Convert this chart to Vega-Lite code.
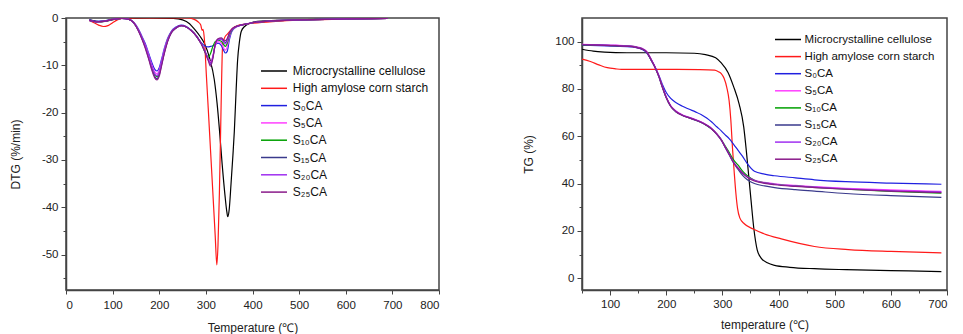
{
"$schema":"https://vega.github.io/schema/vega-lite/v6.json",
"padding":{"left":8,"top":11,"right":0,"bottom":0},
"spacing":81,
"config":{"font":"Liberation Sans","view":{"stroke":"#444","strokeWidth":1.5},
"axis":{"domainColor":"#444","domainWidth":1.5,"tickColor":"#444","tickWidth":1,"labelFont":"Liberation Sans","labelFontSize":11.5,"labelColor":"#222","titleFont":"Liberation Sans","titleFontSize":12,"titleFontWeight":"normal","titleColor":"#222","grid":false},
"legend":{"title":null,"symbolType":"M-2.5,0H2.5","symbolSize":108,"symbolStrokeWidth":1.5,"labelFont":"Liberation Sans","labelColor":"#111","padding":0}},
"datasets":{
"dtg":[
{"s":"MCC","t":50,"v":-0.4},{"s":"MCC","t":60,"v":-0.6},{"s":"MCC","t":75,"v":-0.8},{"s":"MCC","t":90,"v":-0.6},{"s":"MCC","t":110,"v":-0.2},{"s":"MCC","t":130,"v":-0.05},{"s":"MCC","t":180,"v":0},{"s":"MCC","t":230,"v":-0.1},{"s":"MCC","t":250,"v":-0.4},{"s":"MCC","t":265,"v":-1.2},{"s":"MCC","t":275,"v":-2.3},{"s":"MCC","t":287,"v":-3.8},{"s":"MCC","t":297,"v":-5.4},{"s":"MCC","t":308,"v":-8.5},{"s":"MCC","t":318,"v":-13},{"s":"MCC","t":324,"v":-18},{"s":"MCC","t":329,"v":-23.5},{"s":"MCC","t":335,"v":-31},{"s":"MCC","t":341,"v":-37.5},{"s":"MCC","t":345,"v":-41},{"s":"MCC","t":347,"v":-42},{"s":"MCC","t":350,"v":-40.5},{"s":"MCC","t":354,"v":-35},{"s":"MCC","t":358,"v":-29},{"s":"MCC","t":361,"v":-24},{"s":"MCC","t":365,"v":-15},{"s":"MCC","t":368,"v":-9},{"s":"MCC","t":372,"v":-5},{"s":"MCC","t":376,"v":-2.8},{"s":"MCC","t":383,"v":-1.8},{"s":"MCC","t":395,"v":-1.1},{"s":"MCC","t":404,"v":-0.8},{"s":"MCC","t":450,"v":-0.5},{"s":"MCC","t":500,"v":-0.35},{"s":"MCC","t":600,"v":-0.2},{"s":"MCC","t":690,"v":-0.1},
{"s":"HACS","t":50,"v":-0.5},{"s":"HACS","t":60,"v":-1.0},{"s":"HACS","t":70,"v":-1.5},{"s":"HACS","t":80,"v":-1.8},{"s":"HACS","t":90,"v":-1.6},{"s":"HACS","t":100,"v":-1.0},{"s":"HACS","t":110,"v":-0.4},{"s":"HACS","t":120,"v":-0.1},{"s":"HACS","t":150,"v":0},{"s":"HACS","t":260,"v":0},{"s":"HACS","t":275,"v":-0.3},{"s":"HACS","t":283,"v":-0.8},{"s":"HACS","t":289,"v":-1.5},{"s":"HACS","t":292,"v":-2.6},{"s":"HACS","t":294,"v":-2.4},{"s":"HACS","t":297,"v":-4.7},{"s":"HACS","t":301,"v":-12},{"s":"HACS","t":305,"v":-19},{"s":"HACS","t":310,"v":-28},{"s":"HACS","t":315,"v":-37},{"s":"HACS","t":320,"v":-46},{"s":"HACS","t":323.5,"v":-52.2},{"s":"HACS","t":326,"v":-48},{"s":"HACS","t":329,"v":-37},{"s":"HACS","t":332,"v":-22},{"s":"HACS","t":334,"v":-12},{"s":"HACS","t":336,"v":-5.5},{"s":"HACS","t":340,"v":-4.2},{"s":"HACS","t":347,"v":-3.3},{"s":"HACS","t":357,"v":-2.2},{"s":"HACS","t":368,"v":-1.6},{"s":"HACS","t":385,"v":-1.3},{"s":"HACS","t":400,"v":-1.1},{"s":"HACS","t":450,"v":-0.7},{"s":"HACS","t":500,"v":-0.45},{"s":"HACS","t":600,"v":-0.25},{"s":"HACS","t":690,"v":-0.1},
{"s":"S0CA","t":50,"v":-0.4},{"s":"S0CA","t":65,"v":-0.7},{"s":"S0CA","t":80,"v":-0.6},{"s":"S0CA","t":100,"v":-0.3},{"s":"S0CA","t":120,"v":-0.1},{"s":"S0CA","t":135,"v":-0.3},{"s":"S0CA","t":145,"v":-0.9},{"s":"S0CA","t":155,"v":-2.3},{"s":"S0CA","t":163,"v":-3.9},{"s":"S0CA","t":170,"v":-5.4},{"s":"S0CA","t":177,"v":-7.4},{"s":"S0CA","t":184,"v":-9.4},{"s":"S0CA","t":190,"v":-10.8},{"s":"S0CA","t":195,"v":-11.2},{"s":"S0CA","t":200,"v":-10.5},{"s":"S0CA","t":205,"v":-8.7},{"s":"S0CA","t":211,"v":-6.4},{"s":"S0CA","t":218,"v":-4.3},{"s":"S0CA","t":226,"v":-2.8},{"s":"S0CA","t":236,"v":-1.9},{"s":"S0CA","t":247,"v":-1.5},{"s":"S0CA","t":258,"v":-1.8},{"s":"S0CA","t":268,"v":-2.5},{"s":"S0CA","t":280,"v":-3.8},{"s":"S0CA","t":290,"v":-5.2},{"s":"S0CA","t":298,"v":-5.9},{"s":"S0CA","t":305,"v":-6.1},{"s":"S0CA","t":310,"v":-6.0},{"s":"S0CA","t":315,"v":-5.9},{"s":"S0CA","t":320,"v":-5.6},{"s":"S0CA","t":326,"v":-5.3},{"s":"S0CA","t":333,"v":-5.8},{"s":"S0CA","t":338,"v":-6.8},{"s":"S0CA","t":342,"v":-7.4},{"s":"S0CA","t":346,"v":-7.0},{"s":"S0CA","t":350,"v":-4.8},{"s":"S0CA","t":356,"v":-2.8},{"s":"S0CA","t":365,"v":-1.9},{"s":"S0CA","t":380,"v":-1.4},{"s":"S0CA","t":400,"v":-1.0},{"s":"S0CA","t":440,"v":-0.6},{"s":"S0CA","t":500,"v":-0.4},{"s":"S0CA","t":600,"v":-0.2},{"s":"S0CA","t":690,"v":-0.1},
{"s":"S5CA","t":50,"v":-0.5},{"s":"S5CA","t":65,"v":-0.8},{"s":"S5CA","t":80,"v":-0.7},{"s":"S5CA","t":100,"v":-0.3},{"s":"S5CA","t":120,"v":-0.1},{"s":"S5CA","t":135,"v":-0.3},{"s":"S5CA","t":145,"v":-0.9},{"s":"S5CA","t":155,"v":-2.4},{"s":"S5CA","t":163,"v":-4.1},{"s":"S5CA","t":170,"v":-5.7},{"s":"S5CA","t":177,"v":-7.7},{"s":"S5CA","t":184,"v":-9.9},{"s":"S5CA","t":190,"v":-11.3},{"s":"S5CA","t":195,"v":-11.8},{"s":"S5CA","t":200,"v":-11.0},{"s":"S5CA","t":205,"v":-9.1},{"s":"S5CA","t":211,"v":-6.7},{"s":"S5CA","t":218,"v":-4.5},{"s":"S5CA","t":226,"v":-2.9},{"s":"S5CA","t":236,"v":-2.0},{"s":"S5CA","t":247,"v":-1.6},{"s":"S5CA","t":258,"v":-1.9},{"s":"S5CA","t":268,"v":-2.6},{"s":"S5CA","t":280,"v":-3.9},{"s":"S5CA","t":290,"v":-5.4},{"s":"S5CA","t":298,"v":-7.0},{"s":"S5CA","t":305,"v":-8.5},{"s":"S5CA","t":310,"v":-9.3},{"s":"S5CA","t":315,"v":-8.0},{"s":"S5CA","t":320,"v":-5.8},{"s":"S5CA","t":326,"v":-5.0},{"s":"S5CA","t":333,"v":-5.3},{"s":"S5CA","t":338,"v":-6.3},{"s":"S5CA","t":342,"v":-6.8},{"s":"S5CA","t":346,"v":-6.0},{"s":"S5CA","t":350,"v":-4.2},{"s":"S5CA","t":356,"v":-2.6},{"s":"S5CA","t":365,"v":-1.9},{"s":"S5CA","t":380,"v":-1.4},{"s":"S5CA","t":400,"v":-1.0},{"s":"S5CA","t":440,"v":-0.6},{"s":"S5CA","t":500,"v":-0.4},{"s":"S5CA","t":600,"v":-0.2},{"s":"S5CA","t":690,"v":-0.1},
{"s":"S10CA","t":50,"v":-0.5},{"s":"S10CA","t":65,"v":-0.8},{"s":"S10CA","t":80,"v":-0.7},{"s":"S10CA","t":100,"v":-0.3},{"s":"S10CA","t":120,"v":-0.1},{"s":"S10CA","t":135,"v":-0.3},{"s":"S10CA","t":145,"v":-1.0},{"s":"S10CA","t":155,"v":-2.5},{"s":"S10CA","t":163,"v":-4.3},{"s":"S10CA","t":170,"v":-6.0},{"s":"S10CA","t":177,"v":-8.1},{"s":"S10CA","t":184,"v":-10.4},{"s":"S10CA","t":190,"v":-11.9},{"s":"S10CA","t":195,"v":-12.4},{"s":"S10CA","t":200,"v":-11.6},{"s":"S10CA","t":205,"v":-9.6},{"s":"S10CA","t":211,"v":-7.1},{"s":"S10CA","t":218,"v":-4.7},{"s":"S10CA","t":226,"v":-3.0},{"s":"S10CA","t":236,"v":-2.1},{"s":"S10CA","t":247,"v":-1.6},{"s":"S10CA","t":258,"v":-1.9},{"s":"S10CA","t":268,"v":-2.6},{"s":"S10CA","t":280,"v":-3.9},{"s":"S10CA","t":290,"v":-5.4},{"s":"S10CA","t":298,"v":-7.2},{"s":"S10CA","t":305,"v":-8.3},{"s":"S10CA","t":310,"v":-7.5},{"s":"S10CA","t":315,"v":-6.0},{"s":"S10CA","t":320,"v":-5.0},{"s":"S10CA","t":326,"v":-4.7},{"s":"S10CA","t":333,"v":-4.9},{"s":"S10CA","t":338,"v":-5.6},{"s":"S10CA","t":342,"v":-6.0},{"s":"S10CA","t":346,"v":-5.3},{"s":"S10CA","t":350,"v":-3.8},{"s":"S10CA","t":356,"v":-2.5},{"s":"S10CA","t":365,"v":-1.8},{"s":"S10CA","t":380,"v":-1.4},{"s":"S10CA","t":400,"v":-1.0},{"s":"S10CA","t":440,"v":-0.6},{"s":"S10CA","t":500,"v":-0.4},{"s":"S10CA","t":600,"v":-0.2},{"s":"S10CA","t":690,"v":-0.1},
{"s":"S15CA","t":50,"v":-0.5},{"s":"S15CA","t":65,"v":-0.8},{"s":"S15CA","t":80,"v":-0.7},{"s":"S15CA","t":100,"v":-0.3},{"s":"S15CA","t":120,"v":-0.1},{"s":"S15CA","t":135,"v":-0.3},{"s":"S15CA","t":145,"v":-1.0},{"s":"S15CA","t":155,"v":-2.6},{"s":"S15CA","t":163,"v":-4.4},{"s":"S15CA","t":170,"v":-6.2},{"s":"S15CA","t":177,"v":-8.4},{"s":"S15CA","t":184,"v":-10.7},{"s":"S15CA","t":190,"v":-12.3},{"s":"S15CA","t":195,"v":-12.8},{"s":"S15CA","t":200,"v":-12.0},{"s":"S15CA","t":205,"v":-9.9},{"s":"S15CA","t":211,"v":-7.3},{"s":"S15CA","t":218,"v":-4.9},{"s":"S15CA","t":226,"v":-3.1},{"s":"S15CA","t":236,"v":-2.1},{"s":"S15CA","t":247,"v":-1.6},{"s":"S15CA","t":258,"v":-1.9},{"s":"S15CA","t":268,"v":-2.6},{"s":"S15CA","t":280,"v":-3.9},{"s":"S15CA","t":290,"v":-5.4},{"s":"S15CA","t":298,"v":-7.0},{"s":"S15CA","t":305,"v":-8.8},{"s":"S15CA","t":310,"v":-9.8},{"s":"S15CA","t":315,"v":-8.3},{"s":"S15CA","t":320,"v":-5.6},{"s":"S15CA","t":326,"v":-4.5},{"s":"S15CA","t":333,"v":-4.4},{"s":"S15CA","t":338,"v":-4.9},{"s":"S15CA","t":342,"v":-5.2},{"s":"S15CA","t":346,"v":-4.6},{"s":"S15CA","t":350,"v":-3.4},{"s":"S15CA","t":356,"v":-2.4},{"s":"S15CA","t":365,"v":-1.8},{"s":"S15CA","t":380,"v":-1.4},{"s":"S15CA","t":400,"v":-1.0},{"s":"S15CA","t":440,"v":-0.6},{"s":"S15CA","t":500,"v":-0.4},{"s":"S15CA","t":600,"v":-0.2},{"s":"S15CA","t":690,"v":-0.1},
{"s":"S20CA","t":50,"v":-0.5},{"s":"S20CA","t":65,"v":-0.8},{"s":"S20CA","t":80,"v":-0.7},{"s":"S20CA","t":100,"v":-0.3},{"s":"S20CA","t":120,"v":-0.1},{"s":"S20CA","t":135,"v":-0.3},{"s":"S20CA","t":145,"v":-1.0},{"s":"S20CA","t":155,"v":-2.5},{"s":"S20CA","t":163,"v":-4.2},{"s":"S20CA","t":170,"v":-5.9},{"s":"S20CA","t":177,"v":-8.0},{"s":"S20CA","t":184,"v":-10.2},{"s":"S20CA","t":190,"v":-11.7},{"s":"S20CA","t":195,"v":-12.2},{"s":"S20CA","t":200,"v":-11.4},{"s":"S20CA","t":205,"v":-9.4},{"s":"S20CA","t":211,"v":-7.0},{"s":"S20CA","t":218,"v":-4.7},{"s":"S20CA","t":226,"v":-3.0},{"s":"S20CA","t":236,"v":-2.1},{"s":"S20CA","t":247,"v":-1.6},{"s":"S20CA","t":258,"v":-1.9},{"s":"S20CA","t":268,"v":-2.6},{"s":"S20CA","t":280,"v":-3.9},{"s":"S20CA","t":290,"v":-5.4},{"s":"S20CA","t":298,"v":-7.0},{"s":"S20CA","t":305,"v":-8.7},{"s":"S20CA","t":310,"v":-9.6},{"s":"S20CA","t":315,"v":-8.2},{"s":"S20CA","t":320,"v":-5.7},{"s":"S20CA","t":326,"v":-4.6},{"s":"S20CA","t":333,"v":-4.5},{"s":"S20CA","t":338,"v":-5.1},{"s":"S20CA","t":342,"v":-5.5},{"s":"S20CA","t":346,"v":-4.9},{"s":"S20CA","t":350,"v":-3.5},{"s":"S20CA","t":356,"v":-2.4},{"s":"S20CA","t":365,"v":-1.8},{"s":"S20CA","t":380,"v":-1.4},{"s":"S20CA","t":400,"v":-1.0},{"s":"S20CA","t":440,"v":-0.6},{"s":"S20CA","t":500,"v":-0.4},{"s":"S20CA","t":600,"v":-0.2},{"s":"S20CA","t":690,"v":-0.1},
{"s":"S25CA","t":50,"v":-0.5},{"s":"S25CA","t":65,"v":-0.8},{"s":"S25CA","t":80,"v":-0.7},{"s":"S25CA","t":100,"v":-0.3},{"s":"S25CA","t":120,"v":-0.1},{"s":"S25CA","t":135,"v":-0.3},{"s":"S25CA","t":145,"v":-1.0},{"s":"S25CA","t":155,"v":-2.7},{"s":"S25CA","t":163,"v":-4.5},{"s":"S25CA","t":170,"v":-6.4},{"s":"S25CA","t":177,"v":-8.6},{"s":"S25CA","t":184,"v":-11.0},{"s":"S25CA","t":190,"v":-12.6},{"s":"S25CA","t":195,"v":-13.1},{"s":"S25CA","t":200,"v":-12.3},{"s":"S25CA","t":205,"v":-10.1},{"s":"S25CA","t":211,"v":-7.5},{"s":"S25CA","t":218,"v":-5.0},{"s":"S25CA","t":226,"v":-3.1},{"s":"S25CA","t":236,"v":-2.1},{"s":"S25CA","t":247,"v":-1.6},{"s":"S25CA","t":258,"v":-1.9},{"s":"S25CA","t":268,"v":-2.6},{"s":"S25CA","t":280,"v":-3.9},{"s":"S25CA","t":290,"v":-5.5},{"s":"S25CA","t":298,"v":-7.2},{"s":"S25CA","t":305,"v":-9.0},{"s":"S25CA","t":310,"v":-10.2},{"s":"S25CA","t":315,"v":-8.6},{"s":"S25CA","t":320,"v":-5.6},{"s":"S25CA","t":326,"v":-4.4},{"s":"S25CA","t":333,"v":-4.2},{"s":"S25CA","t":338,"v":-4.6},{"s":"S25CA","t":342,"v":-4.8},{"s":"S25CA","t":346,"v":-4.3},{"s":"S25CA","t":350,"v":-3.3},{"s":"S25CA","t":356,"v":-2.3},{"s":"S25CA","t":365,"v":-1.8},{"s":"S25CA","t":380,"v":-1.4},{"s":"S25CA","t":400,"v":-1.0},{"s":"S25CA","t":440,"v":-0.6},{"s":"S25CA","t":500,"v":-0.4},{"s":"S25CA","t":600,"v":-0.2},{"s":"S25CA","t":690,"v":-0.1}
],
"tg":[
{"s":"MCC","t":50,"v":96.8},{"s":"MCC","t":70,"v":96.0},{"s":"MCC","t":90,"v":95.6},{"s":"MCC","t":110,"v":95.4},{"s":"MCC","t":150,"v":95.3},{"s":"MCC","t":200,"v":95.3},{"s":"MCC","t":250,"v":95.1},{"s":"MCC","t":270,"v":94.5},{"s":"MCC","t":288,"v":93.2},{"s":"MCC","t":298,"v":91.0},{"s":"MCC","t":310,"v":87.0},{"s":"MCC","t":320,"v":81.0},{"s":"MCC","t":330,"v":73.5},{"s":"MCC","t":338,"v":64},{"s":"MCC","t":343,"v":53},{"s":"MCC","t":347,"v":43},{"s":"MCC","t":351,"v":33},{"s":"MCC","t":356,"v":21},{"s":"MCC","t":362,"v":12},{"s":"MCC","t":369,"v":8.5},{"s":"MCC","t":380,"v":6.5},{"s":"MCC","t":393,"v":5.4},{"s":"MCC","t":420,"v":4.6},{"s":"MCC","t":464,"v":4.0},{"s":"MCC","t":520,"v":3.6},{"s":"MCC","t":600,"v":3.2},{"s":"MCC","t":690,"v":2.8},
{"s":"HACS","t":50,"v":92.6},{"s":"HACS","t":65,"v":91.6},{"s":"HACS","t":80,"v":90.2},{"s":"HACS","t":95,"v":89.0},{"s":"HACS","t":110,"v":88.5},{"s":"HACS","t":120,"v":88.3},{"s":"HACS","t":200,"v":88.3},{"s":"HACS","t":260,"v":88.2},{"s":"HACS","t":286,"v":88.0},{"s":"HACS","t":293,"v":87.3},{"s":"HACS","t":298,"v":86.5},{"s":"HACS","t":303,"v":84.5},{"s":"HACS","t":308,"v":80.5},{"s":"HACS","t":312,"v":75},{"s":"HACS","t":315,"v":67},{"s":"HACS","t":318,"v":55},{"s":"HACS","t":321,"v":45},{"s":"HACS","t":324,"v":36},{"s":"HACS","t":327,"v":29.5},{"s":"HACS","t":331,"v":25.5},{"s":"HACS","t":339,"v":23.0},{"s":"HACS","t":355,"v":20.8},{"s":"HACS","t":375,"v":18.7},{"s":"HACS","t":405,"v":16.6},{"s":"HACS","t":464,"v":13.4},{"s":"HACS","t":524,"v":12.1},{"s":"HACS","t":600,"v":11.3},{"s":"HACS","t":690,"v":10.7},
{"s":"S0CA","t":50,"v":98.5},{"s":"S0CA","t":80,"v":98.3},{"s":"S0CA","t":110,"v":98.1},{"s":"S0CA","t":140,"v":97.8},{"s":"S0CA","t":150,"v":97.3},{"s":"S0CA","t":158,"v":96.6},{"s":"S0CA","t":165,"v":95.4},{"s":"S0CA","t":173,"v":92.3},{"s":"S0CA","t":180,"v":89.3},{"s":"S0CA","t":187,"v":85.7},{"s":"S0CA","t":193,"v":82.0},{"s":"S0CA","t":200,"v":78.5},{"s":"S0CA","t":208,"v":76.0},{"s":"S0CA","t":217,"v":74.3},{"s":"S0CA","t":228,"v":72.8},{"s":"S0CA","t":240,"v":71.5},{"s":"S0CA","t":252,"v":70.3},{"s":"S0CA","t":262,"v":69.2},{"s":"S0CA","t":272,"v":67.7},{"s":"S0CA","t":281,"v":66.0},{"s":"S0CA","t":290,"v":64.0},{"s":"S0CA","t":298,"v":62.3},{"s":"S0CA","t":305,"v":60.6},{"s":"S0CA","t":312,"v":59.0},{"s":"S0CA","t":320,"v":56.6},{"s":"S0CA","t":328,"v":54.0},{"s":"S0CA","t":336,"v":51.5},{"s":"S0CA","t":345,"v":48.2},{"s":"S0CA","t":357,"v":45.2},{"s":"S0CA","t":375,"v":44.0},{"s":"S0CA","t":393,"v":43.3},{"s":"S0CA","t":430,"v":42.4},{"s":"S0CA","t":464,"v":41.6},{"s":"S0CA","t":520,"v":40.8},{"s":"S0CA","t":600,"v":40.2},{"s":"S0CA","t":690,"v":39.7},
{"s":"S5CA","t":50,"v":98.9},{"s":"S5CA","t":80,"v":98.7},{"s":"S5CA","t":110,"v":98.5},{"s":"S5CA","t":140,"v":98.1},{"s":"S5CA","t":150,"v":97.7},{"s":"S5CA","t":158,"v":97.1},{"s":"S5CA","t":165,"v":95.9},{"s":"S5CA","t":173,"v":92.7},{"s":"S5CA","t":180,"v":89.5},{"s":"S5CA","t":187,"v":85.5},{"s":"S5CA","t":193,"v":81.2},{"s":"S5CA","t":200,"v":76.7},{"s":"S5CA","t":208,"v":73.0},{"s":"S5CA","t":217,"v":70.8},{"s":"S5CA","t":228,"v":69.2},{"s":"S5CA","t":240,"v":68.1},{"s":"S5CA","t":252,"v":67.1},{"s":"S5CA","t":262,"v":66.1},{"s":"S5CA","t":272,"v":64.8},{"s":"S5CA","t":281,"v":63.3},{"s":"S5CA","t":290,"v":61.1},{"s":"S5CA","t":298,"v":58.6},{"s":"S5CA","t":305,"v":55.6},{"s":"S5CA","t":312,"v":52.6},{"s":"S5CA","t":320,"v":49.1},{"s":"S5CA","t":328,"v":46.7},{"s":"S5CA","t":336,"v":44.7},{"s":"S5CA","t":345,"v":43.0},{"s":"S5CA","t":357,"v":41.5},{"s":"S5CA","t":375,"v":40.5},{"s":"S5CA","t":393,"v":39.9},{"s":"S5CA","t":430,"v":39.2},{"s":"S5CA","t":464,"v":38.7},{"s":"S5CA","t":520,"v":38.0},{"s":"S5CA","t":600,"v":37.3},{"s":"S5CA","t":690,"v":36.7},
{"s":"S10CA","t":50,"v":98.6},{"s":"S10CA","t":80,"v":98.5},{"s":"S10CA","t":110,"v":98.3},{"s":"S10CA","t":140,"v":98.0},{"s":"S10CA","t":150,"v":97.5},{"s":"S10CA","t":158,"v":96.9},{"s":"S10CA","t":165,"v":95.7},{"s":"S10CA","t":173,"v":92.4},{"s":"S10CA","t":180,"v":89.2},{"s":"S10CA","t":187,"v":85.2},{"s":"S10CA","t":193,"v":80.9},{"s":"S10CA","t":200,"v":76.4},{"s":"S10CA","t":208,"v":72.7},{"s":"S10CA","t":217,"v":70.5},{"s":"S10CA","t":228,"v":69.0},{"s":"S10CA","t":240,"v":67.9},{"s":"S10CA","t":252,"v":66.9},{"s":"S10CA","t":262,"v":65.9},{"s":"S10CA","t":272,"v":64.6},{"s":"S10CA","t":281,"v":63.1},{"s":"S10CA","t":290,"v":61.0},{"s":"S10CA","t":298,"v":58.6},{"s":"S10CA","t":305,"v":55.9},{"s":"S10CA","t":312,"v":53.2},{"s":"S10CA","t":320,"v":50.0},{"s":"S10CA","t":328,"v":47.8},{"s":"S10CA","t":336,"v":45.3},{"s":"S10CA","t":345,"v":43.2},{"s":"S10CA","t":357,"v":41.4},{"s":"S10CA","t":375,"v":40.3},{"s":"S10CA","t":393,"v":39.7},{"s":"S10CA","t":430,"v":39.0},{"s":"S10CA","t":464,"v":38.4},{"s":"S10CA","t":520,"v":37.6},{"s":"S10CA","t":600,"v":36.7},{"s":"S10CA","t":690,"v":36.0},
{"s":"S15CA","t":50,"v":98.7},{"s":"S15CA","t":80,"v":98.5},{"s":"S15CA","t":110,"v":98.3},{"s":"S15CA","t":140,"v":97.9},{"s":"S15CA","t":150,"v":97.4},{"s":"S15CA","t":158,"v":96.8},{"s":"S15CA","t":165,"v":95.6},{"s":"S15CA","t":173,"v":92.3},{"s":"S15CA","t":180,"v":89.1},{"s":"S15CA","t":187,"v":85.1},{"s":"S15CA","t":193,"v":80.8},{"s":"S15CA","t":200,"v":76.3},{"s":"S15CA","t":208,"v":72.6},{"s":"S15CA","t":217,"v":70.4},{"s":"S15CA","t":228,"v":68.9},{"s":"S15CA","t":240,"v":67.8},{"s":"S15CA","t":252,"v":66.8},{"s":"S15CA","t":262,"v":65.8},{"s":"S15CA","t":272,"v":64.5},{"s":"S15CA","t":281,"v":63.0},{"s":"S15CA","t":290,"v":60.8},{"s":"S15CA","t":298,"v":58.3},{"s":"S15CA","t":305,"v":55.3},{"s":"S15CA","t":312,"v":52.2},{"s":"S15CA","t":320,"v":48.7},{"s":"S15CA","t":328,"v":46.0},{"s":"S15CA","t":336,"v":43.5},{"s":"S15CA","t":345,"v":41.5},{"s":"S15CA","t":357,"v":40.0},{"s":"S15CA","t":375,"v":39.0},{"s":"S15CA","t":393,"v":38.3},{"s":"S15CA","t":430,"v":37.4},{"s":"S15CA","t":464,"v":36.8},{"s":"S15CA","t":520,"v":35.8},{"s":"S15CA","t":600,"v":34.9},{"s":"S15CA","t":690,"v":34.2},
{"s":"S20CA","t":50,"v":98.8},{"s":"S20CA","t":80,"v":98.6},{"s":"S20CA","t":110,"v":98.4},{"s":"S20CA","t":140,"v":98.0},{"s":"S20CA","t":150,"v":97.5},{"s":"S20CA","t":158,"v":96.9},{"s":"S20CA","t":165,"v":95.8},{"s":"S20CA","t":173,"v":92.5},{"s":"S20CA","t":180,"v":89.3},{"s":"S20CA","t":187,"v":85.3},{"s":"S20CA","t":193,"v":81.0},{"s":"S20CA","t":200,"v":76.5},{"s":"S20CA","t":208,"v":72.8},{"s":"S20CA","t":217,"v":70.6},{"s":"S20CA","t":228,"v":69.0},{"s":"S20CA","t":240,"v":68.0},{"s":"S20CA","t":252,"v":67.0},{"s":"S20CA","t":262,"v":66.0},{"s":"S20CA","t":272,"v":64.7},{"s":"S20CA","t":281,"v":63.2},{"s":"S20CA","t":290,"v":61.0},{"s":"S20CA","t":298,"v":58.5},{"s":"S20CA","t":305,"v":55.5},{"s":"S20CA","t":312,"v":52.5},{"s":"S20CA","t":320,"v":49.0},{"s":"S20CA","t":328,"v":46.5},{"s":"S20CA","t":336,"v":44.5},{"s":"S20CA","t":345,"v":42.8},{"s":"S20CA","t":357,"v":41.3},{"s":"S20CA","t":375,"v":40.3},{"s":"S20CA","t":393,"v":39.7},{"s":"S20CA","t":430,"v":39.0},{"s":"S20CA","t":464,"v":38.5},{"s":"S20CA","t":520,"v":37.8},{"s":"S20CA","t":600,"v":37.0},{"s":"S20CA","t":690,"v":36.5},
{"s":"S25CA","t":50,"v":98.7},{"s":"S25CA","t":80,"v":98.5},{"s":"S25CA","t":110,"v":98.3},{"s":"S25CA","t":140,"v":97.9},{"s":"S25CA","t":150,"v":97.4},{"s":"S25CA","t":158,"v":96.8},{"s":"S25CA","t":165,"v":95.7},{"s":"S25CA","t":173,"v":92.4},{"s":"S25CA","t":180,"v":89.2},{"s":"S25CA","t":187,"v":85.2},{"s":"S25CA","t":193,"v":80.9},{"s":"S25CA","t":200,"v":76.4},{"s":"S25CA","t":208,"v":72.7},{"s":"S25CA","t":217,"v":70.5},{"s":"S25CA","t":228,"v":68.9},{"s":"S25CA","t":240,"v":67.9},{"s":"S25CA","t":252,"v":66.9},{"s":"S25CA","t":262,"v":65.9},{"s":"S25CA","t":272,"v":64.6},{"s":"S25CA","t":281,"v":63.1},{"s":"S25CA","t":290,"v":60.9},{"s":"S25CA","t":298,"v":58.4},{"s":"S25CA","t":305,"v":55.4},{"s":"S25CA","t":312,"v":52.4},{"s":"S25CA","t":320,"v":48.9},{"s":"S25CA","t":328,"v":46.4},{"s":"S25CA","t":336,"v":44.3},{"s":"S25CA","t":345,"v":42.6},{"s":"S25CA","t":357,"v":41.1},{"s":"S25CA","t":375,"v":40.1},{"s":"S25CA","t":393,"v":39.5},{"s":"S25CA","t":430,"v":38.8},{"s":"S25CA","t":464,"v":38.3},{"s":"S25CA","t":520,"v":37.6},{"s":"S25CA","t":600,"v":36.8},{"s":"S25CA","t":690,"v":36.2}
]},
"resolve":{"scale":{"color":"independent"},"legend":{"color":"independent"}},
"hconcat":[
{"width":373,"height":272,"data":{"name":"dtg"},
"mark":{"type":"line","strokeWidth":1.2,"interpolate":"monotone","clip":true},
"encoding":{
"x":{"field":"t","type":"quantitative","scale":{"domain":[0,800],"nice":false},"axis":{"title":"Temperature (℃)","values":[0,100,200,300,400,500,600,700,800],"tickSize":4,"labelPadding":5,"titlePadding":12}},
"y":{"field":"v","type":"quantitative","scale":{"domain":[-57.5,0],"nice":false,"zero":false},"axis":{"title":"DTG (%/min)","values":[-55,-50,-45,-40,-35,-30,-25,-20,-15,-10,-5,0],"labelExpr":"datum.value % 10 ? '' : '' + datum.value","tickSize":{"condition":{"test":"datum.value % 10 != 0","value":3},"value":5},"labelPadding":3,"titlePadding":19}},
"color":{"field":"s","type":"nominal","sort":null,"scale":{"domain":["MCC","HACS","S0CA","S5CA","S10CA","S15CA","S20CA","S25CA"],"range":["#000000","#ff1a1a","#2020e0","#ff40ff","#00a000","#3a3a8c","#a030f0","#8a1a8a"]},
"legend":{"orient":"none","legendX":202,"legendY":47,"labelOffset":12.8,"labelFontSize":12,"rowPadding":5.3,"labelExpr":"datum.label=='MCC'?'Microcrystalline cellulose':datum.label=='HACS'?'High amylose corn starch':datum.label=='S0CA'?'S₀CA':datum.label=='S5CA'?'S₅CA':datum.label=='S10CA'?'S₁₀CA':datum.label=='S15CA'?'S₁₅CA':datum.label=='S20CA'?'S₂₀CA':'S₂₅CA'"}}}},
{"width":365,"height":272,"data":{"name":"tg"},
"mark":{"type":"line","strokeWidth":1.2,"interpolate":"monotone","clip":true},
"encoding":{
"x":{"field":"t","type":"quantitative","scale":{"domain":[50,700],"nice":false,"zero":false},"axis":{"title":"temperature (℃)","values":[50,100,150,200,250,300,350,400,450,500,550,600,650,700],"labelExpr":"datum.value % 100 ? '' : '' + datum.value","tickSize":{"condition":{"test":"datum.value % 100 != 0","value":3},"value":5},"labelPadding":3,"titlePadding":10}},
"y":{"field":"v","type":"quantitative","scale":{"domain":[-5,110],"nice":false,"zero":false},"axis":{"title":"TG (%)","values":[0,10,20,30,40,50,60,70,80,90,100],"labelExpr":"datum.value % 20 ? '' : '' + datum.value","tickSize":{"condition":{"test":"datum.value % 20 != 0","value":3},"value":5},"labelPadding":3,"titlePadding":19}},
"color":{"field":"s","type":"nominal","sort":null,"scale":{"domain":["MCC","HACS","S0CA","S5CA","S10CA","S15CA","S20CA","S25CA"],"range":["#000000","#ff1a1a","#2020e0","#ff40ff","#00a000","#3a3a8c","#a030f0","#8a1a8a"]},
"legend":{"orient":"none","legendX":200,"legendY":15.5,"labelOffset":10.6,"labelFontSize":11.5,"rowPadding":5.1,"labelExpr":"datum.label=='MCC'?'Microcrystalline cellulose':datum.label=='HACS'?'High amylose corn starch':datum.label=='S0CA'?'S₀CA':datum.label=='S5CA'?'S₅CA':datum.label=='S10CA'?'S₁₀CA':datum.label=='S15CA'?'S₁₅CA':datum.label=='S20CA'?'S₂₀CA':'S₂₅CA'"}}}}
]
}
